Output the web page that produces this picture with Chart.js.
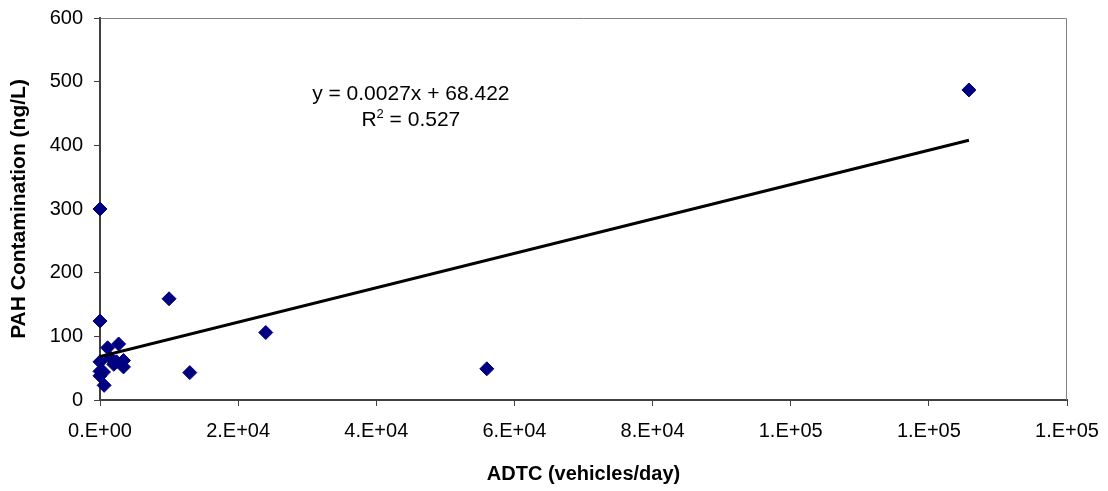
<!DOCTYPE html>
<html>
<head>
<meta charset="utf-8">
<script src="https://cdn.jsdelivr.net/npm/chart.js@4"></script>
<style>
  html, body { margin: 0; padding: 0; background: #fff; }
  #wrap { width: 1108px; height: 491px; }
</style>
</head>
<body>
<div id="wrap"><canvas id="canvas" width="1108" height="491"></canvas></div>
<script>
// ADTC (vehicles/day) vs PAH contamination (ng/L)
const adtc = [0, 0, 10000, 24000, 13000, 56000, 125800, 1100, 2700, 0, 0, 0, 500, 600, 1500, 2400, 3400, 3400, 2000];
const pah = [300, 124, 159, 106, 43, 49, 487, 82, 88, 60, 45, 38, 44, 23, 66, 60, 62, 52, 56];

// trend line end points
const trendX = [0, 125800];
const trendY = [68.4, 408];

const equationLines = ['y = 0.0027x + 68.422', 'R', '2', ' = 0.527'];
const equationAt = { x: 45000, y: [481, 439] };

const xTicks = [0, 20000, 40000, 60000, 80000, 100000, 120000, 140000];

const scatterData = adtc.map((x, i) => ({ x: x, y: pah[i] }));
const trendData = trendX.map((x, i) => ({ x: x, y: trendY[i] }));

const fontFamily = '"Liberation Sans", Arial, sans-serif';

function excelSci(v) {
  const parts = v.toExponential(0).split('e');
  const exp = parseInt(parts[1], 10);
  const sign = exp < 0 ? '-' : '+';
  const e = String(Math.abs(exp)).padStart(2, '0');
  return parts[0] + '.E' + sign + e;
}

// grey frame round the plot area, like the Excel plot area border
const frame = {
  id: 'frame',
  beforeDatasetsDraw(chart) {
    const a = chart.chartArea;
    const ctx = chart.ctx;
    ctx.save();
    ctx.strokeStyle = '#808080';
    ctx.lineWidth = 1;
    ctx.beginPath();
    ctx.moveTo(a.left, a.top + 0.5);
    ctx.lineTo(a.right - 0.5, a.top + 0.5);
    ctx.lineTo(a.right - 0.5, a.bottom);
    ctx.stroke();
    ctx.restore();
  }
};

// trend equation text
const equation = {
  id: 'equation',
  afterDatasetsDraw(chart) {
    const ctx = chart.ctx;
    const xs = chart.scales.x;
    const ys = chart.scales.y;
    const cx = xs.getPixelForValue(equationAt.x);
    const big = '21px ' + fontFamily;
    const small = '13px ' + fontFamily;
    ctx.save();
    ctx.fillStyle = '#000';
    ctx.textBaseline = 'middle';
    ctx.font = big;
    ctx.textAlign = 'center';
    ctx.fillText(equationLines[0], cx, ys.getPixelForValue(equationAt.y[0]));
    // R² with superscript
    const y2 = ys.getPixelForValue(equationAt.y[1]);
    const [, a, b, c] = equationLines;
    ctx.font = big;
    const wa = ctx.measureText(a).width;
    const wc = ctx.measureText(c).width;
    ctx.font = small;
    const wb = ctx.measureText(b).width;
    const x0 = cx - (wa + wb + wc) / 2;
    ctx.textAlign = 'left';
    ctx.font = big;
    ctx.fillText(a, x0, y2);
    ctx.font = small;
    ctx.fillText(b, x0 + wa, y2 - 6);
    ctx.font = big;
    ctx.fillText(c, x0 + wa + wb, y2);
    ctx.restore();
  }
};

const config = {
  type: 'scatter',
  data: {
    datasets: [
      {
        label: 'PAH',
        data: scatterData,
        pointStyle: 'rectRot',
        pointRadius: 7,
        pointHoverRadius: 7,
        backgroundColor: '#000080',
        borderColor: '#000080',
        borderWidth: 1,
        clip: false,
        order: 2,
      },
      {
        label: 'Linear',
        type: 'line',
        data: trendData,
        borderColor: '#000',
        borderWidth: 3,
        pointRadius: 0,
        fill: false,
        order: 1,
      },
    ],
  },
  options: {
    responsive: false,
    animation: false,
    layout: { padding: { top: 18, right: 41, left: 0, bottom: 0 } },
    plugins: {
      legend: { display: false },
      tooltip: { enabled: false },
    },
    scales: {
      x: {
        type: 'linear',
        min: 0,
        max: 140000,
        afterFit: (s) => {
          s.height = 91;
          s.paddingLeft = 0;
          s.paddingRight = 0;
        },
        afterBuildTicks: (s) => { s.ticks = xTicks.map((v) => ({ value: v })); },
        border: { color: '#404040', width: 2 },
        grid: { drawOnChartArea: false, tickLength: 6, color: '#404040' },
        ticks: {
          color: '#000',
          padding: 13,
          maxRotation: 0,
          font: { family: fontFamily, size: 20 },
          callback: (v) => excelSci(v),
        },
        title: {
          display: true,
          text: 'ADTC (vehicles/day)',
          color: '#000',
          font: { family: fontFamily, size: 20, weight: 'bold' },
          padding: { top: 0, bottom: 5 },
        },
      },
      y: {
        min: 0,
        max: 600,
        afterFit: (s) => {
          s.width = 100;
          s.paddingTop = 0;
          s.paddingBottom = 0;
        },
        border: { color: '#404040', width: 2 },
        grid: { drawOnChartArea: false, tickLength: 6, color: '#404040' },
        ticks: {
          stepSize: 100,
          color: '#000',
          padding: 11,
          font: { family: fontFamily, size: 20 },
        },
        title: {
          display: true,
          text: 'PAH Contamination (ng/L)',
          color: '#000',
          font: { family: fontFamily, size: 21, weight: 'bold' },
          padding: { top: 7, bottom: 0 },
        },
      },
    },
  },
  plugins: [frame, equation],
};

const ctx = document.getElementById('canvas').getContext('2d');
window.myChart = new Chart(ctx, config);
</script>
</body>
</html>
